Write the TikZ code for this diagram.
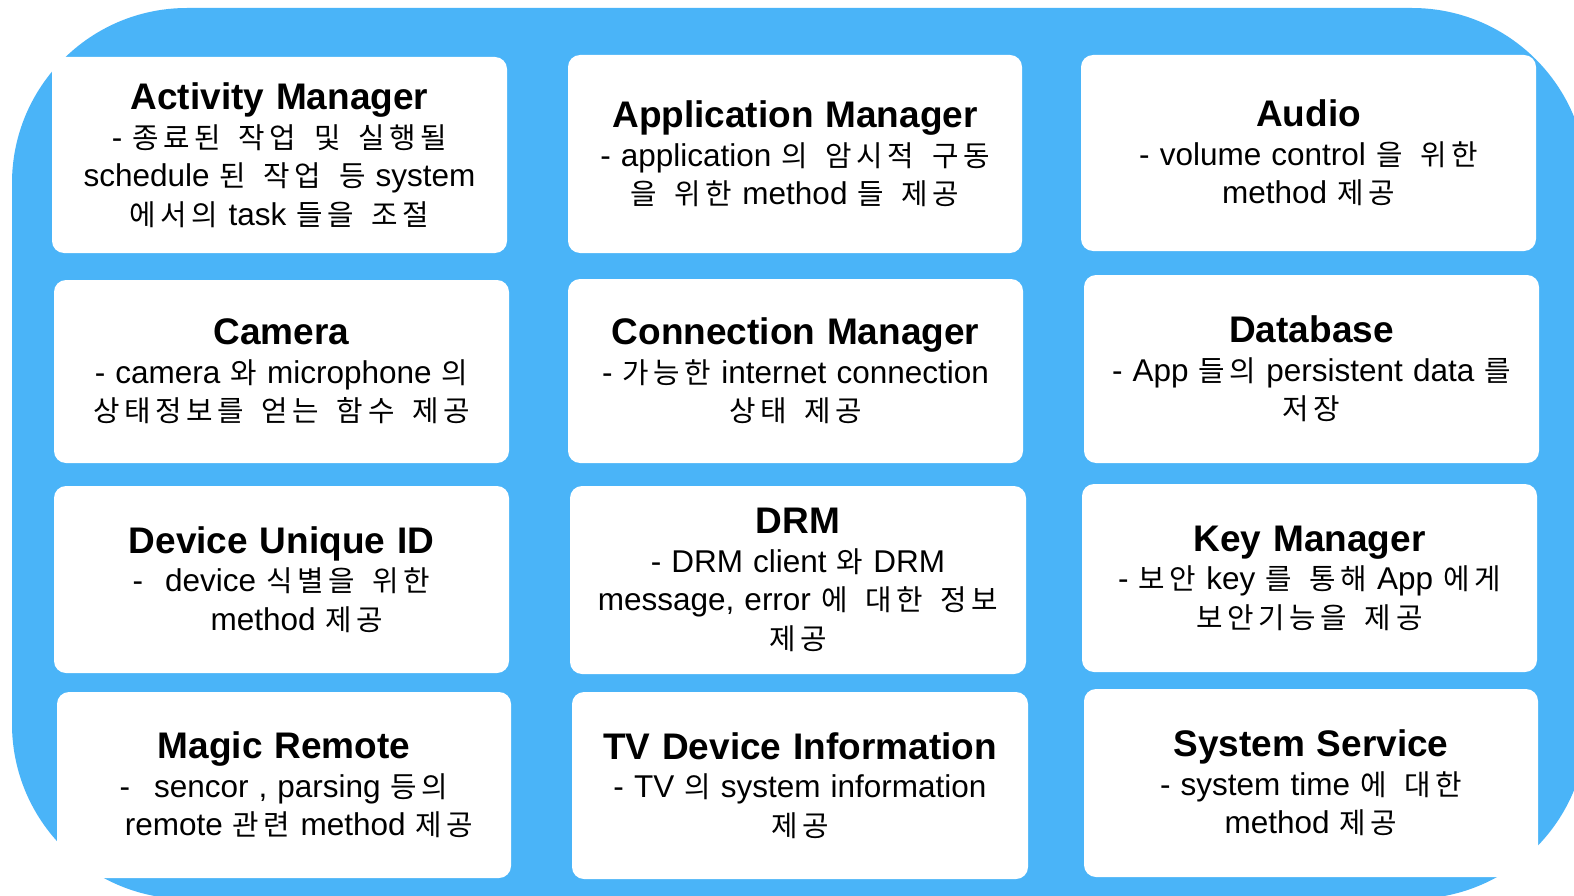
\documentclass[tikz,border=0pt]{standalone}
\usepackage{fontspec}
\setmainfont{Liberation Sans}[WordSpace=1.15]
\newfontfamily\krf{Noto Sans CJK KR}[Scale=0.914, LetterSpace=16, WordSpace=1.6]
\newcommand\K[1]{{\krf #1}}
\newcommand\ttl[1]{{\fontsize{37}{37}\selectfont\bfseries #1}}
\definecolor{bgblue}{RGB}{74,180,248}
\begin{document}
\begin{tikzpicture}[x=1pt,y=-1pt,
  card/.style={fill=white, rounded corners=12pt, inner sep=0pt, align=center,
    font=\fontsize{31.5}{38.5}\selectfont}]
\useasboundingbox (0,0) rectangle (1574,896);
\fill[white] (0,0) rectangle (1574,896);
\begin{scope}
\clip (0,0) rectangle (1574,896);
\fill[bgblue, rounded corners=175pt] (12,8) rectangle (1587,899);
\end{scope}
% row 1
\node[card, minimum width=455pt, minimum height=196pt] (act) at (279.5,155)
  {\ttl{Activity Manager}\\ - \K{종료된 작업 및 실행될}\\ schedule \K{된 작업 등} system\\ \K{에서의} task \K{들을 조절}};
\node[card, minimum width=454pt, minimum height=198pt] (app) at (795,154)
  {\ttl{Application Manager}\\ - application \K{의 암시적 구동}\\ \K{을 위한} method \K{들 제공}};
\node[card, minimum width=455pt, minimum height=196pt] (aud) at (1308.5,153)
  {\ttl{Audio}\\ - volume control \K{을 위한}\\ method \K{제공}};
% row 2
\node[card, minimum width=455pt, minimum height=183pt] (cam) at (281.5,371.5)
  {\ttl{Camera}\\ - camera \K{와} microphone \K{의}\\ \K{상태정보를 얻는 함수 제공}};
\node[card, minimum width=455pt, minimum height=184pt] (con) at (795.5,371)
  {\ttl{Connection Manager}\\ - \K{가능한} internet connection\\ \K{상태 제공}};
\node[card, minimum width=455pt, minimum height=188pt] (db) at (1311.5,369)
  {\ttl{Database}\\ - App \K{들의} persistent data \K{를}\\ \K{저장}};
% row 3
\node[card, minimum width=455pt, minimum height=187pt] (dev) at (281.5,579.5)
  {\ttl{Device Unique ID}\\ -\hspace{22pt}device \K{식별을 위한}\\ \hspace*{31pt}method \K{제공}};
\node[card, minimum width=456pt, minimum height=188pt] (drm) at (798,580)
  {\ttl{DRM}\\ - DRM client \K{와} DRM\\ message, error \K{에 대한 정보}\\ \K{제공}};
\node[card, minimum width=455pt, minimum height=188pt] (key) at (1309.5,578)
  {\ttl{Key Manager}\\ - \K{보안} key \K{를 통해} App \K{에게}\\ \K{보안기능을 제공}};
% row 4
\node[card, minimum width=454pt, minimum height=186pt] (mag) at (284,785)
  {\ttl{Magic Remote}\\ -\hspace{24pt}sencor , parsing \K{등의}\\ \hspace*{30pt}remote \K{관련} method \K{제공}};
\node[card, minimum width=456pt, minimum height=187pt] (tv) at (800,785.5)
  {\ttl{TV Device Information}\\ - TV \K{의} system information\\ \K{제공}};
\node[card, minimum width=454pt, minimum height=188pt] (sys) at (1311,783)
  {\ttl{System Service}\\ - system time \K{에 대한}\\ method \K{제공}};
\end{tikzpicture}
\end{document}
